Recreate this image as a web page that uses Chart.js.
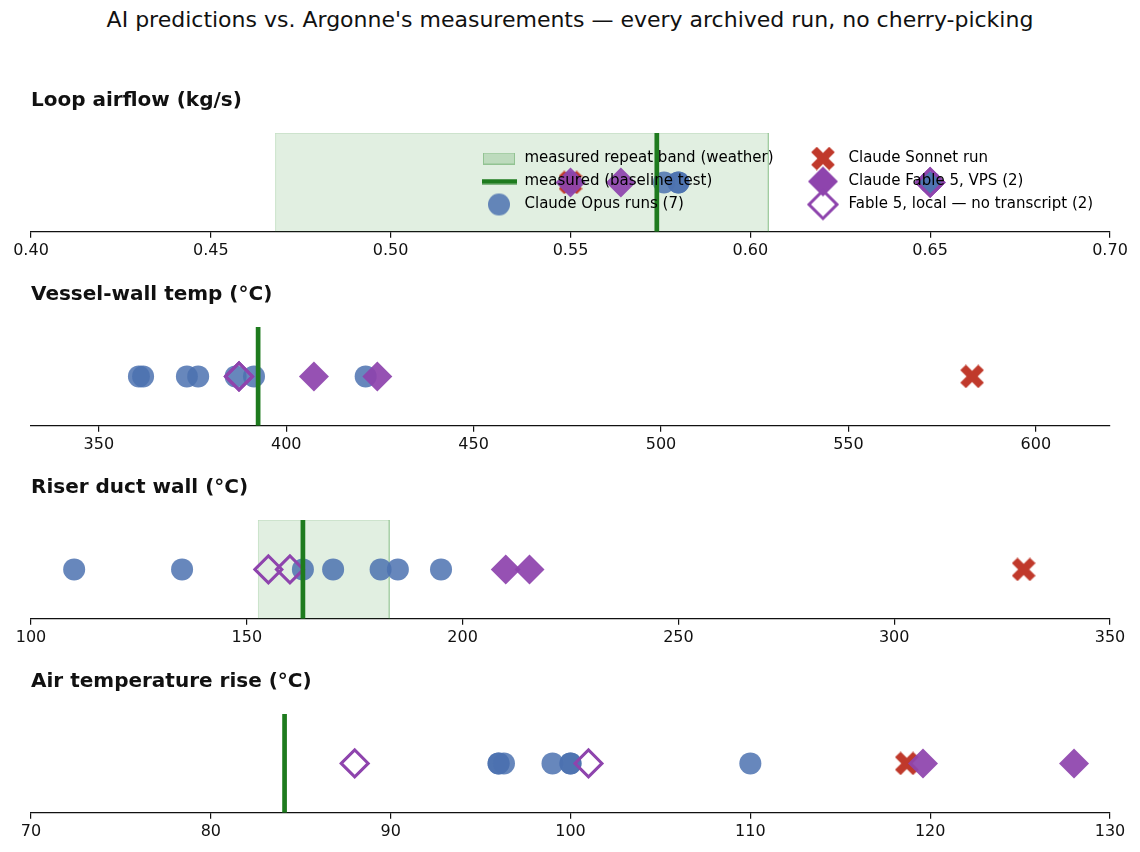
<!DOCTYPE html>
<html>
<head>
<meta charset="utf-8">
<script src="https://cdn.jsdelivr.net/npm/chart.js@4.4.1/dist/chart.umd.min.js"></script>
<style>
  body { margin: 0; background: #fff; width: 1140px; height: 852px; position: relative; overflow: hidden; font-family: 'DejaVu Sans', sans-serif; }
  #title { position: absolute; left: 0; top: 7px; width: 1140px; text-align: center; font-size: 22px; line-height: 26px; color: #111; }
  canvas { position: absolute; }
</style>
</head>
<body>
<div id="title">AI predictions vs. Argonne's measurements — every archived run, no cherry-picking</div>
<script>
// ---- data ----
const PANEL_TITLES = ['Loop airflow (kg/s)', 'Vessel-wall temp (°C)', 'Riser duct wall (°C)', 'Air temperature rise (°C)'];
const X_MIN = [0.40, 331.9, 100, 70];
const X_MAX = [0.70, 619.8, 350, 130];
const TICKS = [
  [0.40, 0.45, 0.50, 0.55, 0.60, 0.65, 0.70],
  [350, 400, 450, 500, 550, 600],
  [100, 150, 200, 250, 300, 350],
  [70, 80, 90, 100, 110, 120, 130]
];
const MEASURED = [0.574, 392.5, 163, 84.1];
const BAND_LO = [0.468, null, 152.7, null];
const BAND_HI = [0.605, null, 183, null];
const OPUS = [
  [0.55, 0.55, 0.576, 0.58, 0.58, 0.65, 0.65],
  [360.7, 361.8, 373.5, 376.5, 386.5, 391.4, 421.2],
  [110, 135, 163, 170, 181, 185, 195],
  [96, 96, 96.3, 99, 100, 100, 110]
];
const SONNET = [[0.55], [583], [330], [118.7]];
const FABLE_VPS = [[0.55, 0.564], [407.4, 424.3], [210, 215.5], [119.6, 128]];
const FABLE_LOCAL = [[0.65, 0.65], [387.4, 387.4], [155, 160], [88, 101]];
const LEGEND_COL1 = ['measured repeat band (weather)', 'measured (baseline test)', 'Claude Opus runs (7)'];
const LEGEND_COL2 = ['Claude Sonnet run', 'Claude Fable 5, VPS (2)', 'Fable 5, local — no transcript (2)'];

const FONT = "'DejaVu Sans', sans-serif";
const BLUE = 'rgba(76,114,176,0.85)';
const PURPLE = '#8e44ad';
const RED = '#c0392b';
const GREEN = '#1e7b1e';
const BAND_FILL = 'rgba(46,139,46,0.14)';
const BAND_EDGE = 'rgba(46,139,46,0.22)';

// little glyphs for the legend and the thick X marker
function glyph(w, h, draw) {
  const c = document.createElement('canvas');
  c.width = w; c.height = h;
  draw(c.getContext('2d'), w, h);
  return c;
}
const xMark = glyph(24, 24, (g, w) => {
  g.strokeStyle = RED; g.lineWidth = 8; g.lineCap = 'butt';
  const m = 3;
  g.beginPath();
  g.moveTo(m, m); g.lineTo(w - m, w - m);
  g.moveTo(w - m, m); g.lineTo(m, w - m);
  g.stroke();
});
function diamond(g, cx, cy, r) {
  g.beginPath();
  g.moveTo(cx - r, cy); g.lineTo(cx, cy - r); g.lineTo(cx + r, cy); g.lineTo(cx, cy + r);
  g.closePath();
}
const legBand = glyph(32, 12, (g, w, h) => {
  g.fillStyle = 'rgba(46,139,46,0.2)'; g.fillRect(0, 0, w, h);
  g.strokeStyle = 'rgba(46,139,46,0.3)'; g.strokeRect(0.5, 0.5, w - 1, h - 1);
});
const legLine = glyph(35, 6, (g, w) => { g.fillStyle = GREEN; g.fillRect(0, 0.5, w, 5); });
const legCircle = glyph(24, 24, g => { g.fillStyle = BLUE; g.beginPath(); g.arc(12, 12, 11, 0, Math.PI * 2); g.fill(); });
const legVps = glyph(32, 32, g => { g.fillStyle = PURPLE; diamond(g, 16, 16, 15); g.fill(); });
const legLocal = glyph(34, 34, g => { g.strokeStyle = PURPLE; g.lineWidth = 3; diamond(g, 17, 17, 14); g.stroke(); });

function addCanvas(left, top, w, h) {
  const c = document.createElement('canvas');
  c.width = w; c.height = h;
  c.style.left = left + 'px'; c.style.top = top + 'px';
  document.body.appendChild(c);
  return c;
}

const PANEL_H = 194;
const PANEL_STEP = 193.7;
PANEL_TITLES.forEach((title, k) => {
  const pt = v => ({x: v, y: 0.5});
  const datasets = [
    {label: 'measured (baseline test)', data: [{x: MEASURED[k], y: 0}, {x: MEASURED[k], y: 1}],
     showLine: true, borderColor: GREEN, borderWidth: 4.7, pointRadius: 0, order: 0},
    {label: 'Fable 5, local', data: FABLE_LOCAL[k].map(pt), pointStyle: 'rectRot', pointRadius: 13.5,
     borderColor: PURPLE, borderWidth: 3, backgroundColor: 'rgba(0,0,0,0)', order: 1},
    {label: 'Claude Fable 5, VPS', data: FABLE_VPS[k].map(pt), pointStyle: 'rectRot', pointRadius: 15,
     backgroundColor: 'rgba(142,68,173,0.93)', borderWidth: 0, order: 2},
    {label: 'Claude Sonnet run', data: SONNET[k].map(pt), pointStyle: xMark, pointRadius: 12, order: 3},
    {label: 'Claude Opus runs', data: OPUS[k].map(pt), pointStyle: 'circle', pointRadius: 11,
     backgroundColor: BLUE, borderWidth: 0, order: 4}
  ];
  if (BAND_LO[k] != null) {
    datasets.push({label: 'measured repeat band', order: 5,
      data: [{x: BAND_LO[k], y: 0}, {x: BAND_LO[k], y: 1}, {x: BAND_HI[k], y: 1}, {x: BAND_HI[k], y: 0}],
      showLine: true, fill: 'origin', backgroundColor: BAND_FILL, borderColor: BAND_EDGE, borderWidth: 1, pointRadius: 0});
  }
  const cv = addCanvas(0, Math.round(70 + PANEL_STEP * k), 1140, PANEL_H);
  new Chart(cv, {
    type: 'scatter',
    data: {datasets},
    options: {
      responsive: false, animation: false, events: [],
      layout: {padding: {left: 31, right: 30, top: 10, bottom: 1}},
      plugins: {
        legend: {display: false},
        tooltip: {enabled: false},
        title: {display: true, text: title, align: 'start', color: '#111',
                font: {family: FONT, size: 20, weight: 'bold'}, padding: {top: 9, bottom: 20}}
      },
      scales: {
        x: {
          type: 'linear', min: X_MIN[k], max: X_MAX[k],
          afterBuildTicks: s => { s.ticks = TICKS[k].map(v => ({value: v})); },
          ticks: {autoSkip: false, maxRotation: 0, color: '#111', padding: 3,
                  font: {family: FONT, size: 16},
                  callback: v => k === 0 ? v.toFixed(2) : String(v)},
          grid: {display: true, drawOnChartArea: false, drawTicks: true, tickLength: 6, color: '#111', lineWidth: 1.2},
          border: {display: true, color: '#111', width: 1.2}
        },
        y: {type: 'linear', min: 0, max: 1, display: false}
      }
    }
  });
});

// legend overlay, two columns, inside the first panel
function legendChart(left, texts, styles) {
  const cv = addCanvas(left, 143, 340, 100);
  new Chart(cv, {
    type: 'scatter',
    data: {datasets: []},
    options: {
      responsive: false, animation: false, events: [],
      scales: {x: {display: false}, y: {display: false}},
      plugins: {
        tooltip: {enabled: false},
        legend: {
          display: true, position: 'left', align: 'start', maxWidth: 340,
          labels: {
            usePointStyle: true, pointStyleWidth: 36, boxHeight: 14, padding: 8,
            color: '#111', font: {family: FONT, size: 15},
            generateLabels: () => texts.map((t, i) => ({text: t, pointStyle: styles[i], fillStyle: '#000', strokeStyle: '#000', lineWidth: 0, hidden: false, datasetIndex: i}))
          }
        }
      }
    }
  });
}
legendChart(473, LEGEND_COL1, [legBand, legLine, legCircle]);
legendChart(797, LEGEND_COL2, [xMark, legVps, legLocal]);
</script>
</body>
</html>
